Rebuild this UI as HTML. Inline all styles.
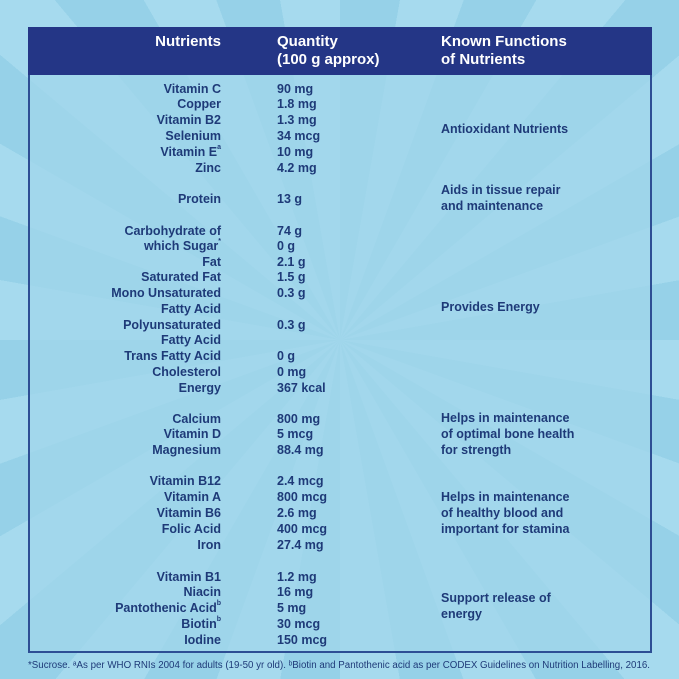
<!DOCTYPE html>
<html><head><meta charset="utf-8"><style>
body{margin:0;width:679px;height:679px;overflow:hidden;position:relative;
background:repeating-conic-gradient(from 0deg at 340px 340px,#96d1e8 0deg 10deg,#a6daee 10deg 20deg);
font-family:"Liberation Sans",sans-serif;font-weight:bold;}
.box{position:absolute;left:28px;top:27px;width:620px;height:622px;border:2px solid #2d4e94;background:rgba(160,214,235,0.75)}
.hd{position:absolute;left:28px;top:27px;width:624px;height:48px;background:#243686}
.h{position:absolute;color:#fff;font-size:15px;line-height:18px}
.t{position:absolute;color:#1e3a78;font-size:12.5px;line-height:16px;white-space:nowrap}
.n{right:458px;text-align:right}
.q{left:277px}
.f{left:441px}
sup{font-size:7px;vertical-align:top;line-height:7px}
</style></head><body>
<div class="box"></div>
<div class="hd"></div>
<div class="h" style="right:458px;top:33px">Nutrients</div>
<div class="h" style="left:277px;top:33px">Quantity<br>(100 g approx)</div>
<div class="h" style="left:441px;top:33px">Known Functions<br>of Nutrients</div>

<div class="t n" style="top:81px">Vitamin C</div><div class="t q" style="top:81px">90 mg</div>
<div class="t n" style="top:96px">Copper</div><div class="t q" style="top:96px">1.8 mg</div>
<div class="t n" style="top:112px">Vitamin B2</div><div class="t q" style="top:112px">1.3 mg</div>
<div class="t n" style="top:128px">Selenium</div><div class="t q" style="top:128px">34 mcg</div>
<div class="t n" style="top:144px">Vitamin E<sup>a</sup></div><div class="t q" style="top:144px">10 mg</div>
<div class="t n" style="top:160px">Zinc</div><div class="t q" style="top:160px">4.2 mg</div>
<div class="t f" style="top:121px">Antioxidant Nutrients</div>

<div class="t n" style="top:191px">Protein</div><div class="t q" style="top:191px">13 g</div>
<div class="t f" style="top:182px">Aids in tissue repair<br>and maintenance</div>

<div class="t n" style="top:223px">Carbohydrate of</div><div class="t q" style="top:223px">74 g</div>
<div class="t n" style="top:238px">which Sugar<sup>*</sup></div><div class="t q" style="top:238px">0 g</div>
<div class="t n" style="top:254px">Fat</div><div class="t q" style="top:254px">2.1 g</div>
<div class="t n" style="top:269px">Saturated Fat</div><div class="t q" style="top:269px">1.5 g</div>
<div class="t n" style="top:285px">Mono Unsaturated</div><div class="t q" style="top:285px">0.3 g</div>
<div class="t n" style="top:301px">Fatty Acid</div>
<div class="t n" style="top:317px">Polyunsaturated</div><div class="t q" style="top:317px">0.3 g</div>
<div class="t n" style="top:332px">Fatty Acid</div>
<div class="t n" style="top:348px">Trans Fatty Acid</div><div class="t q" style="top:348px">0 g</div>
<div class="t n" style="top:364px">Cholesterol</div><div class="t q" style="top:364px">0 mg</div>
<div class="t n" style="top:380px">Energy</div><div class="t q" style="top:380px">367 kcal</div>
<div class="t f" style="top:299px">Provides Energy</div>

<div class="t n" style="top:411px">Calcium</div><div class="t q" style="top:411px">800 mg</div>
<div class="t n" style="top:426px">Vitamin D</div><div class="t q" style="top:426px">5 mcg</div>
<div class="t n" style="top:442px">Magnesium</div><div class="t q" style="top:442px">88.4 mg</div>
<div class="t f" style="top:410px;line-height:16px">Helps in maintenance<br>of optimal bone health<br>for strength</div>

<div class="t n" style="top:473px">Vitamin B12</div><div class="t q" style="top:473px">2.4 mcg</div>
<div class="t n" style="top:489px">Vitamin A</div><div class="t q" style="top:489px">800 mcg</div>
<div class="t n" style="top:505px">Vitamin B6</div><div class="t q" style="top:505px">2.6 mg</div>
<div class="t n" style="top:521px">Folic Acid</div><div class="t q" style="top:521px">400 mcg</div>
<div class="t n" style="top:537px">Iron</div><div class="t q" style="top:537px">27.4 mg</div>
<div class="t f" style="top:489px">Helps in maintenance<br>of healthy blood and<br>important for stamina</div>

<div class="t n" style="top:569px">Vitamin B1</div><div class="t q" style="top:569px">1.2 mg</div>
<div class="t n" style="top:584px">Niacin</div><div class="t q" style="top:584px">16 mg</div>
<div class="t n" style="top:600px">Pantothenic Acid<sup>b</sup></div><div class="t q" style="top:600px">5 mg</div>
<div class="t n" style="top:616px">Biotin<sup>b</sup></div><div class="t q" style="top:616px">30 mcg</div>
<div class="t n" style="top:632px">Iodine</div><div class="t q" style="top:632px">150 mcg</div>
<div class="t f" style="top:590px">Support release of<br>energy</div>

<svg style="position:absolute;left:0;top:0" width="679" height="679">
<text x="28" y="668" textLength="622" lengthAdjust="spacingAndGlyphs" font-family="Liberation Sans" font-size="10" font-weight="normal" fill="#1e3a78">*Sucrose. ᵃAs per WHO RNIs 2004 for adults (19-50 yr old). ᵇBiotin and Pantothenic acid as per CODEX Guidelines on Nutrition Labelling, 2016.</text>
</svg>
</body></html>
